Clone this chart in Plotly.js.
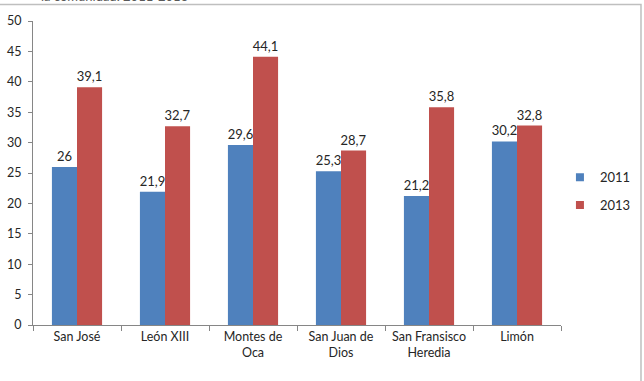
<!DOCTYPE html>
<html>
<head>
<meta charset="utf-8">
<script src="https://cdn.plot.ly/plotly-3.0.1.min.js"></script>
<style>
  html, body { margin: 0; padding: 0; background: #ffffff; }
  #chart { width: 644px; height: 381px; }
</style>
</head>
<body>
<div id="chart"></div>
<script>
// Communities and their values for each year
const categories = ['San José', 'León XIII', 'Montes de<br>Oca', 'San Juan de<br>Dios', 'San Fransisco<br>Heredia', 'Limón'];
const values2011 = [26, 21.9, 29.6, 25.3, 21.2, 30.2];
const values2013 = [39.1, 32.7, 44.1, 28.7, 35.8, 32.8];
const seriesNames = ['2011', '2013'];
const yTicks = [0, 5, 10, 15, 20, 25, 30, 35, 40, 45, 50];

const BLUE = '#4F81BD';
const RED = '#C0504D';
const FONT = 'Lato, "Open Sans", sans-serif';

// decimal comma for the value labels
const fmt = v => String(v).replace('.', ',');

function barTrace(name, vals, color) {
  return {
    type: 'bar',
    name: name,
    x: categories,
    y: vals,
    marker: { color: color, line: { width: 0 } },
    text: vals.map(fmt),
    textposition: 'outside',
    constraintext: 'none',
    cliponaxis: false,
    textfont: { family: FONT, size: 13, color: '#262626' },
    showlegend: false,
    hoverinfo: 'x+y'
  };
}

// small square markers for the legend entries
function legendTrace(name, color) {
  return {
    type: 'scatter',
    mode: 'markers',
    name: name,
    x: [null],
    y: [null],
    marker: { symbol: 'square', size: 8, color: color },
    legendgroup: name,
    showlegend: true,
    hoverinfo: 'skip'
  };
}

const data = [
  barTrace(seriesNames[0], values2011, BLUE),
  barTrace(seriesNames[1], values2013, RED),
  legendTrace(seriesNames[0], BLUE),
  legendTrace(seriesNames[1], RED)
];

const layout = {
  width: 644,
  height: 381,
  margin: { l: 33, r: 83, t: 20.5, b: 55.5, pad: 0, autoexpand: false },
  paper_bgcolor: '#ffffff',
  plot_bgcolor: '#ffffff',
  font: { family: FONT, size: 12, color: '#262626' },
  barmode: 'group',
  bargap: 0.43,
  bargroupgap: 0,
  xaxis: {
    type: 'category',
    automargin: false,
    showgrid: false,
    showline: true,
    linecolor: '#868686',
    linewidth: 1,
    ticks: 'outside',
    tickson: 'boundaries',
    ticklen: 5,
    tickcolor: '#868686',
    tickfont: { family: FONT, size: 12.5, color: '#262626' },
    fixedrange: true
  },
  yaxis: {
    range: [0, 50],
    automargin: false,
    tickvals: yTicks,
    showgrid: false,
    zeroline: false,
    showline: true,
    linecolor: '#868686',
    linewidth: 1,
    ticks: 'outside',
    ticklen: 4,
    tickcolor: '#868686',
    ticklabelstandoff: 4,
    tickfont: { family: FONT, size: 12.5, color: '#262626' },
    fixedrange: true
  },
  showlegend: true,
  legend: {
    x: 0.998,
    xanchor: 'left',
    y: 0.44,
    yanchor: 'middle',
    font: { family: FONT, size: 13, color: '#262626' },
    tracegroupgap: 8,
    itemwidth: 30,
    bgcolor: 'rgba(0,0,0,0)'
  },
  shapes: [
    {
      type: 'rect', xref: 'paper', yref: 'paper',
      x0: -0.3, x1: 1.1515, y0: -0.4, y1: 1.054,
      line: { color: '#BFBFBF', width: 1.5 },
      fillcolor: 'rgba(0,0,0,0)'
    }
  ],
  annotations: [
    {
      text: 'la comunidad. 2011-2013',
      xref: 'paper', yref: 'paper',
      x: 0.297, xanchor: 'right',
      y: 1.049, yanchor: 'bottom',
      showarrow: false,
      font: { family: FONT, size: 13, color: '#595959' }
    }
  ]
};

Plotly.newPlot('chart', data, layout, { displayModeBar: false, staticPlot: true });
</script>
</body>
</html>
